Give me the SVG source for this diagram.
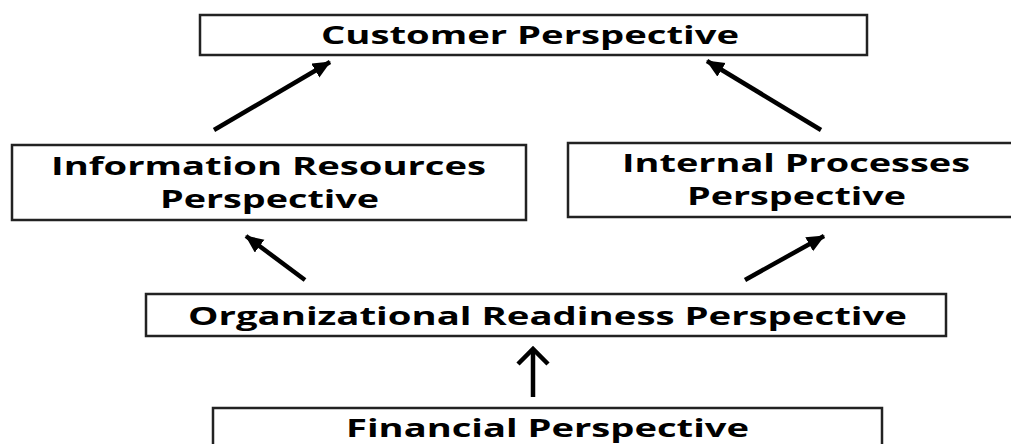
<svg xmlns="http://www.w3.org/2000/svg" width="1011" height="444" viewBox="0 0 1011 444">
<defs>
<style>
.box{fill:#ffffff;stroke:#222222;stroke-width:2.5}
.lbl{font-family:"Open Sans","Liberation Sans",sans-serif;font-weight:bold;fill:#000000;font-size:25px}
.arr{stroke:#000000;stroke-width:4.5;fill:none}
</style>
<marker id="head" markerUnits="userSpaceOnUse" markerWidth="20" markerHeight="18" refX="17" refY="8" orient="auto">
<path d="M0,0 L18,8 L0,16 Z" fill="#000000"/>
</marker>
</defs>
<rect width="1011" height="444" fill="#ffffff"/>
<g id="customer">
<rect class="box" x="200" y="15" width="667" height="40"/>
<text class="lbl" x="530" y="44" text-anchor="middle" font-size="22" textLength="418" lengthAdjust="spacingAndGlyphs">Customer Perspective</text>
</g>
<g id="information">
<rect class="box" x="12" y="145" width="514" height="75"/>
<text class="lbl" x="268.5" y="175" text-anchor="middle" textLength="435" lengthAdjust="spacingAndGlyphs">Information Resources</text>
<text class="lbl" x="269.5" y="208" text-anchor="middle" textLength="219" lengthAdjust="spacingAndGlyphs">Perspective</text>
</g>
<g id="internal">
<rect class="box" x="568" y="143" width="446" height="74"/>
<text class="lbl" x="796" y="172" text-anchor="middle" textLength="348" lengthAdjust="spacingAndGlyphs">Internal Processes</text>
<text class="lbl" x="796.5" y="205" text-anchor="middle" textLength="219" lengthAdjust="spacingAndGlyphs">Perspective</text>
</g>
<g id="organizational">
<rect class="box" x="146" y="294" width="800" height="42"/>
<text class="lbl" x="547.5" y="325" text-anchor="middle" textLength="719" lengthAdjust="spacingAndGlyphs">Organizational Readiness Perspective</text>
</g>
<g id="financial">
<rect class="box" x="213" y="408" width="669" height="50"/>
<text class="lbl" x="547.5" y="437" text-anchor="middle" textLength="403" lengthAdjust="spacingAndGlyphs">Financial Perspective</text>
</g>
<g id="connectors">
<line class="arr" x1="214" y1="130" x2="330" y2="62" marker-end="url(#head)"/>
<line class="arr" x1="821" y1="130" x2="707" y2="61" marker-end="url(#head)"/>
<line class="arr" x1="305" y1="280" x2="246" y2="236" marker-end="url(#head)"/>
<line class="arr" x1="745" y1="280" x2="824" y2="236" marker-end="url(#head)"/>
<line class="arr" x1="533" y1="397" x2="533" y2="350" stroke-width="5"/>
<path class="arr" d="M518,364 L533,349 L548,364" stroke-width="5" stroke-linejoin="miter"/>
</g>
</svg>
